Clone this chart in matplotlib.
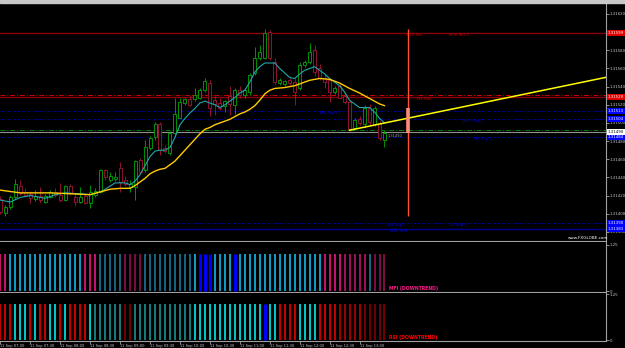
import numpy as np
import matplotlib
matplotlib.use("Agg")
import matplotlib.pyplot as plt
import matplotlib.transforms as mtransforms
from matplotlib.patches import Rectangle

# 5 min bars, 11 Sep 07:00 -> 13:25
opens = [1.31416, 1.31401, 1.31407, 1.31418, 1.31431, 1.31424, 1.31422, 1.31416, 1.31420, 1.31413,
         1.31418, 1.31424, 1.31421, 1.31415, 1.31431, 1.31418, 1.31413, 1.31420, 1.31412, 1.31421,
         1.31424, 1.31448, 1.31437, 1.31438, 1.31450, 1.31437, 1.31429, 1.31429, 1.31459, 1.31448,
         1.31472, 1.31484, 1.31499, 1.31472, 1.31467, 1.31489, 1.31506, 1.31522, 1.31526, 1.31526,
         1.31528, 1.31536, 1.31544, 1.31525, 1.31522, 1.31519, 1.31530, 1.31520, 1.31536, 1.31531,
         1.31534, 1.31555, 1.31572, 1.31572, 1.31600, 1.31567, 1.31544, 1.31543, 1.31547, 1.31545,
         1.31538, 1.31564, 1.31567, 1.31580, 1.31560, 1.31550, 1.31547, 1.31534, 1.31541, 1.31530,
         1.31523, 1.31494, 1.31504, 1.31499, 1.31517, 1.31499, 1.31500, 1.31481]
highs = [1.31420, 1.31410, 1.31421, 1.31438, 1.31437, 1.31428, 1.31425, 1.31426, 1.31429, 1.31422,
         1.31426, 1.31428, 1.31434, 1.31432, 1.31433, 1.31423, 1.31429, 1.31423, 1.31432, 1.31428,
         1.31449, 1.31449, 1.31446, 1.31446, 1.31457, 1.31442, 1.31437, 1.31459, 1.31461, 1.31481,
         1.31486, 1.31501, 1.31501, 1.31476, 1.31491, 1.31528, 1.31528, 1.31528, 1.31530, 1.31539,
         1.31538, 1.31549, 1.31547, 1.31530, 1.31527, 1.31525, 1.31541, 1.31538, 1.31541, 1.31538,
         1.31555, 1.31584, 1.31586, 1.31604, 1.31602, 1.31572, 1.31550, 1.31547, 1.31549, 1.31549,
         1.31567, 1.31569, 1.31588, 1.31586, 1.31565, 1.31554, 1.31549, 1.31541, 1.31543, 1.31534,
         1.31525, 1.31506, 1.31508, 1.31520, 1.31521, 1.31519, 1.31502, 1.31492]
lows = [1.31400, 1.31398, 1.31405, 1.31416, 1.31421, 1.31420, 1.31412, 1.31414, 1.31412, 1.31412,
        1.31417, 1.31418, 1.31413, 1.31414, 1.31421, 1.31409, 1.31412, 1.31411, 1.31406, 1.31418,
        1.31423, 1.31437, 1.31435, 1.31436, 1.31424, 1.31431, 1.31424, 1.31415, 1.31444, 1.31446,
        1.31470, 1.31481, 1.31465, 1.31467, 1.31465, 1.31487, 1.31505, 1.31520, 1.31519, 1.31524,
        1.31526, 1.31534, 1.31508, 1.31509, 1.31514, 1.31512, 1.31509, 1.31510, 1.31528, 1.31528,
        1.31531, 1.31553, 1.31569, 1.31570, 1.31569, 1.31543, 1.31542, 1.31541, 1.31542, 1.31520,
        1.31536, 1.31562, 1.31565, 1.31552, 1.31547, 1.31538, 1.31523, 1.31532, 1.31527, 1.31521,
        1.31491, 1.31492, 1.31498, 1.31495, 1.31497, 1.31497, 1.31481, 1.31473]
closes = [1.31402, 1.31407, 1.31418, 1.31433, 1.31423, 1.31421, 1.31417, 1.31420, 1.31415, 1.31420,
          1.31424, 1.31421, 1.31415, 1.31431, 1.31423, 1.31413, 1.31418, 1.31412, 1.31424, 1.31425,
          1.31448, 1.31440, 1.31442, 1.31440, 1.31435, 1.31433, 1.31433, 1.31458, 1.31446, 1.31473,
          1.31483, 1.31499, 1.31470, 1.31469, 1.31489, 1.31510, 1.31523, 1.31526, 1.31520, 1.31531,
          1.31536, 1.31546, 1.31517, 1.31521, 1.31517, 1.31524, 1.31521, 1.31536, 1.31531, 1.31536,
          1.31553, 1.31572, 1.31578, 1.31599, 1.31572, 1.31545, 1.31547, 1.31546, 1.31544, 1.31534,
          1.31564, 1.31567, 1.31578, 1.31556, 1.31550, 1.31545, 1.31534, 1.31538, 1.31528, 1.31523,
          1.31493, 1.31503, 1.31500, 1.31517, 1.31501, 1.31516, 1.31483, 1.31489]

# moving averages, read at these bars
fast_bars = [0, 2, 4, 6, 9, 11, 13, 16, 18, 20, 21, 23, 25, 26] + list(range(27, 78))
fast_ma = [1.31415, 1.31413, 1.31418, 1.31420, 1.31417, 1.31421, 1.31423, 1.31422, 1.31421, 1.31424,
           1.31427, 1.31434, 1.31434, 1.31432,
           1.31436, 1.31443, 1.31453, 1.31463, 1.31469, 1.31470, 1.31470, 1.31473, 1.31484, 1.31498,
           1.31505, 1.31511, 1.31516, 1.31522, 1.31524, 1.31522, 1.31520, 1.31517, 1.31520, 1.31524,
           1.31528, 1.31533, 1.31536, 1.31545, 1.31556, 1.31562, 1.31566, 1.31566, 1.31566, 1.31560,
           1.31555, 1.31550, 1.31549, 1.31554, 1.31558, 1.31560, 1.31562, 1.31558, 1.31554, 1.31549,
           1.31545, 1.31541, 1.31534, 1.31525, 1.31521, 1.31517, 1.31517, 1.31517, 1.31512, 1.31505,
           1.31500]
slow_bars = [0, 4, 10, 14, 18, 20, 22, 24, 26,
             27, 28, 29, 30, 31, 32, 33, 34, 35, 36, 37, 38, 39, 40, 41, 42, 43, 44,
             46, 48, 49, 50, 51, 52, 53, 54, 55,
             57, 59, 60, 62, 64, 66, 68, 70, 72, 74, 76, 77]
slow_ma = [1.31426, 1.31423, 1.31423, 1.31422, 1.31421, 1.31424, 1.31427, 1.31428, 1.31428,
           1.31431, 1.31435, 1.31439, 1.31444, 1.31447, 1.31449, 1.31450, 1.31454, 1.31458,
           1.31464, 1.31470, 1.31476, 1.31482, 1.31488, 1.31493, 1.31495, 1.31498, 1.31500,
           1.31504, 1.31510, 1.31512, 1.31515, 1.31519, 1.31525, 1.31532, 1.31536, 1.31538,
           1.31539, 1.31541, 1.31543, 1.31547, 1.31549, 1.31548, 1.31544, 1.31538, 1.31533,
           1.31527, 1.31521, 1.31519]

# trend line anchors (ray to the right)
trend_bars = [70, 100]
trend_prices = [1.31492, 1.31526]

# S/R levels
level_prices = [1.31599, 1.31531, 1.31529, 1.31513, 1.31504, 1.31492, 1.31490, 1.31484, 1.31390, 1.31383]
level_kinds = ["res", "res_c", "res", "sup_c", "sup_c", "pivot", "bid", "sup_c", "sup_c", "sup"]
level_names = [("M15 Res", 1.31599), ("M30 Res C", 1.31599), ("M1 Res", 1.31529),
               ("M1 Sup C", 1.31513), ("M15 Sup C", 1.31504), ("M5 Sup C", 1.31484),
               ("H4 Sup C", 1.31390), ("H1 Sup C", 1.31390), ("M30 Sup", 1.31383)]
marker_bar = 81.7
marker_range = (1.31397, 1.31604)
marker_hilite = (1.31489, 1.31517)

price_ticks = [1.31380, 1.31400, 1.31420, 1.31440, 1.31460, 1.31480, 1.31500,
               1.31520, 1.31540, 1.31560, 1.31580, 1.31600, 1.31620]
time_ticks = [0, 6, 12, 18, 24, 30, 36, 42, 48, 54, 60, 66, 72]
time_labels = ["11 Sep 07:00", "11 Sep 07:30", "11 Sep 08:00", "11 Sep 08:30", "11 Sep 09:00",
               "11 Sep 09:30", "11 Sep 10:00", "11 Sep 10:30", "11 Sep 11:00", "11 Sep 11:30",
               "11 Sep 12:00", "11 Sep 12:30", "11 Sep 13:00"]

# trend state per bar for the two histogram panes
mfi_state = list("PP" + "C" * 15 + "PPP" + "c" * 5 + "pppp" + "c" * 10 + "C" + "BBB" + "CCCC" + "B"
                 + "C" * 17 + "PPPP" + "qqqqq" + "c" + "ppp")
rsi_state = list("RRRCCCRCRRCCRCRRRR" + "C" + "cccccc" + "rr" + "c" * 12 + "C" * 14 + "B" + "CC"
                 + "RRRR" + "CCCC" + "RRRR" + "mmmmm" + "rrrrr")

# ---------------------------------------------------------------- styles
GREEN, RED = "#00a800", "#a8143a"
mfi_colors = {"P": "#ff1a8c", "p": "#a0105a", "q": "#cc1478", "C": "#10c8ff", "c": "#1a80a8", "B": "#0000ff"}
rsi_colors = {"R": "#ff0000", "m": "#c80000", "r": "#900000", "C": "#00ffff", "c": "#1aa0a0", "B": "#0000ff"}
line_styles = {
    "res": dict(color="#8b0000", ls="-", lw=1.0),
    "res_c": dict(color="#d00000", ls=(0, (5, 2, 1, 2)), lw=0.7),
    "sup_c": dict(color="#0000c0", ls=(0, (3, 2, 1, 2)), lw=0.6),
    "pivot": dict(color="#008000", ls=(0, (5, 2, 1, 2)), lw=0.7),
    "bid": dict(color="#909090", ls="-", lw=0.8),
    "sup": dict(color="#000099", ls="-", lw=1.0),
}
box_styles = {"res": ("#e00000", "white"), "sup_c": ("#0000ff", "white"),
              "sup": ("#0000ff", "white"), "bid": ("white", "black")}
GRAY = "#c8c8c8"

W, H = 625.0, 348.0


def px_rect(x0, y0, x1, y1):
    return [x0 / W, 1 - y1 / H, (x1 - x0) / W, (y1 - y0) / H]


fig = plt.figure(figsize=(6.25, 3.48), dpi=100, facecolor="black")
fig.patches.append(Rectangle((0, 1 - 3 / H), 1, 3 / H, transform=fig.transFigure,
                             color="#c8c8c8", zorder=0))

ax = fig.add_axes(px_rect(0, 4, 606, 241))
ax_mfi = fig.add_axes(px_rect(0, 242, 606, 292))
ax_rsi = fig.add_axes(px_rect(0, 293, 606, 341))

XMIN, XMAX = -0.07, 121.4
for a in (ax, ax_mfi, ax_rsi):
    a.set_facecolor("black")
    a.set_xlim(XMIN, XMAX)
    for s in ("left", "top"):
        a.spines[s].set_visible(False)
    for s in ("right", "bottom"):
        a.spines[s].set_color("#a0a0a0")
        a.spines[s].set_linewidth(0.8)
    a.yaxis.tick_right()
    a.tick_params(axis="y", colors=GRAY, labelsize=2.8, length=2, width=0.5, pad=0.5)
    a.tick_params(axis="x", length=0, labelbottom=False)

# ---------------------------------------------------------------- main pane
ax.set_ylim(1.31370, 1.31631)
ax.set_yticks(price_ticks)
# 1.31600 sits under the red resistance box, as on the terminal
ax.set_yticklabels(["" if p == 1.31600 else "%.5f" % p for p in price_ticks])

for price, kind in zip(level_prices, level_kinds):
    ax.axhline(price, zorder=2, **line_styles[kind])

label_bars = [81.3, 89.9, 83.5, 64.1, 92.7, 94.9, 77.7, 89.9, 78.1]
for (name, price), xb in zip(level_names, label_bars):
    col = "#d00000" if "Res" in name else "#0000e0"
    ax.text(xb, price, name, color=col, fontsize=2.8, va="top", ha="left", zorder=3)

o = np.array(opens)
h = np.array(highs)
l = np.array(lows)
c = np.array(closes)
x = np.arange(len(o))
cols = np.where(c >= o, GREEN, RED)
ax.vlines(x, l, h, colors=cols, lw=0.6, zorder=4)
ax.bar(x, np.maximum(np.abs(c - o), 0.000004), bottom=np.minimum(o, c), width=0.6,
       facecolor="black", edgecolor=cols, linewidth=0.6, zorder=5)

ax.plot(fast_bars, fast_ma, color="#20a8a8", lw=0.8, zorder=6)
ax.plot(slow_bars, slow_ma, color="#ffcc00", lw=1.0, zorder=6)

slope = (trend_prices[1] - trend_prices[0]) / (trend_bars[1] - trend_bars[0])
ax.plot([trend_bars[0], XMAX], [trend_prices[0], trend_prices[0] + slope * (XMAX - trend_bars[0])],
        color="#ffff00", lw=1.1, zorder=7, clip_on=True)

ax.vlines(marker_bar, *marker_range, color="#ff5533", lw=1.0, zorder=7)
ax.vlines(marker_bar, *marker_hilite, color="#ff8a78", lw=2.6, zorder=7)

ax.text(77.6, 1.31488, "1.31490", color="#a0a0a0", fontsize=2.6, va="top", ha="left", zorder=3)

trans = mtransforms.blended_transform_factory(ax.transAxes, ax.transData)
for price, kind in zip(level_prices, level_kinds):
    if kind in box_styles:
        bg, fg = box_styles[kind]
        ax.text(1.003, price, "%.5f" % price, transform=trans, fontsize=2.8, color=fg,
                va="center", ha="left", clip_on=False, zorder=10,
                bbox=dict(boxstyle="square,pad=0.25", fc=bg, ec="none"))

fig.text(568 / W, 1 - 238 / H, "www.FXGLOBE.com", color="white", fontsize=3.0, va="center", ha="left")

# ---------------------------------------------------------------- indicator panes
for a, states, cmap, ylim, title, tcol in (
        (ax_mfi, mfi_state, mfi_colors, (-0.027, 1.324), "MFI (DOWNTREND)", "#ff1a8c"),
        (ax_rsi, rsi_state, rsi_colors, (-0.027, 1.288), "RSI (DOWNTREND)", "#ff0000")):
    a.set_ylim(*ylim)
    a.set_yticks([0, 1.25])
    a.set_yticklabels(["0", "1.25"])
    xb = np.arange(len(states))
    bar_cols = [cmap[s] for s in states]
    widths = [2.2 if s == "B" else 1.1 for s in states]
    a.vlines(xb, 0, 1, colors=bar_cols, linewidths=widths)
    a.text(77.9, 0.0, title, color=tcol, fontsize=3.3, fontweight="bold", va="bottom", ha="left")

ax_rsi.set_xticks(time_ticks)
ax_rsi.set_xticklabels(time_labels, ha="left")
ax_rsi.tick_params(axis="x", length=2, width=0.5, colors=GRAY, labelsize=2.6, pad=0.5,
                   labelbottom=True, direction="out")

fig.savefig("out.png", dpi=100, facecolor="black")
